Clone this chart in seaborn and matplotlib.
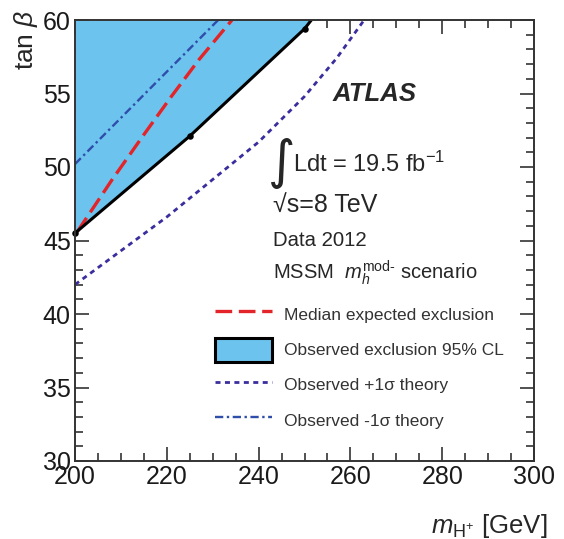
import matplotlib
matplotlib.use("Agg")
import matplotlib.pyplot as plt
import seaborn as sns
import pandas as pd
from matplotlib.lines import Line2D
from matplotlib.patches import Patch
from matplotlib.ticker import MultipleLocator

# ---- data ----
obs_mass = [200, 225, 250, 251.5]
obs_tanb = [45.5, 52.1, 59.4, 60.0]
marker_mass = [200, 225, 250]
marker_tanb = [45.5, 52.1, 59.4]

exp_mass = [200.5, 208, 215, 221, 227, 234.2]
exp_tanb = [45.6, 49.1, 52.2, 54.8, 57.3, 60.0]

plus_mass = [200, 220, 240, 250, 257, 263]
plus_tanb = [42.0, 46.6, 51.7, 54.8, 57.4, 60.0]

minus_mass = [200, 231.2]
minus_tanb = [50.2, 60.0]

x_ticks = [200, 220, 240, 260, 280, 300]
y_ticks = [30, 35, 40, 45, 50, 55, 60]

legend_labels = ["Median expected exclusion", "Observed exclusion 95% CL",
                 "Observed +1\u03c3 theory", "Observed -1\u03c3 theory"]

# ---- style ----
sns.set_style("ticks")
plt.rcParams['font.family'] = ['Liberation Sans', 'DejaVu Sans']
plt.rcParams['mathtext.fontset'] = 'custom'
plt.rcParams['mathtext.rm'] = 'Liberation Sans'
plt.rcParams['mathtext.it'] = 'Liberation Sans:italic'
plt.rcParams['mathtext.bf'] = 'Liberation Sans:bold'

fill_col = '#6CC4EE'
red = '#E32428'
blue_dot = '#3A2E9E'
blue_dd = '#2F4DAA'

fig = plt.figure(figsize=(5.64, 5.39), dpi=100)
ax = fig.add_axes([75/564, 1-461/539, (534-75)/564, (461-20)/539])

# observed exclusion fill
ax.fill_between(obs_mass, obs_tanb, [60]*len(obs_mass), color=fill_col, lw=0, zorder=1)

df_obs = pd.DataFrame({'m': obs_mass, 't': obs_tanb})
df_exp = pd.DataFrame({'m': exp_mass, 't': exp_tanb})
df_plus = pd.DataFrame({'m': plus_mass, 't': plus_tanb})
df_minus = pd.DataFrame({'m': minus_mass, 't': minus_tanb})
df_mark = pd.DataFrame({'m': marker_mass, 't': marker_tanb})

dd_pattern = [3.5, 1.5, 1, 1.5]
sns.lineplot(data=df_minus, x='m', y='t', ax=ax, sort=False, color=blue_dd, lw=1.7,
             zorder=3).lines[-1].set_dashes(dd_pattern)
sns.lineplot(data=df_exp, x='m', y='t', ax=ax, sort=False, color=red, lw=2.4,
             zorder=3).lines[-1].set_dashes([5, 2])
sns.lineplot(data=df_plus, x='m', y='t', ax=ax, sort=False, color=blue_dot, lw=2.0,
             zorder=3).lines[-1].set_dashes([1.8, 1.6])
sns.lineplot(data=df_obs, x='m', y='t', ax=ax, sort=False, color='black', lw=2.2, zorder=4)
sns.scatterplot(data=df_mark, x='m', y='t', ax=ax, color='black', s=22, zorder=5,
                edgecolor='black', linewidth=0, clip_on=False)

ax.set_xlim(200, 300)
ax.set_ylim(30, 60)
ax.set_xticks(x_ticks)
ax.set_yticks(y_ticks)
ax.xaxis.set_minor_locator(MultipleLocator(5))
ax.yaxis.set_minor_locator(MultipleLocator(1))
ax.tick_params(which='both', direction='in', top=True, right=True, color='#333333',
               width=1.2)
ax.tick_params(which='major', length=10, labelsize=18, labelcolor='#1a1a1a', pad=3)
ax.tick_params(which='minor', length=5.5)
for s in ax.spines.values():
    s.set_linewidth(1.4)
    s.set_color('#333333')
    s.set_zorder(6)

ax.set_xlabel(r'$m_{\rm H^{+}}$ [GeV]', fontsize=18.5, ha='right')
ax.xaxis.set_label_coords(1.03, -0.115)
ax.set_ylabel(r'tan $\beta$', fontsize=19)
ax.yaxis.label.set(ha='center', va='top', rotation_mode='default')
ax.yaxis.set_label_coords(-0.107, 1.024)

# annotations
ax.text(0.56, 0.833, 'ATLAS', transform=ax.transAxes, fontsize=18.5, fontweight='bold',
        fontstyle='italic', ha='left', va='center')
ax.text(0.42, 0.676, '\u222b', transform=ax.transAxes, fontsize=38, ha='left',
        va='center', family=['DejaVu Sans'])
ax.text(0.474, 0.656, r'Ldt = 19.5 fb$^{\mathregular{-1}}$', transform=ax.transAxes,
        fontsize=17, ha='left', va='baseline')
ax.text(0.431, 0.58, '\u221as=8 TeV', transform=ax.transAxes, fontsize=18,
        ha='left', va='center')
ax.text(0.431, 0.5, 'Data 2012', transform=ax.transAxes, fontsize=14.7,
        ha='left', va='center')
ax.text(0.431, 0.428, r'MSSM  $m_h^{\rm mod\text{-}}$ scenario', transform=ax.transAxes,
        fontsize=14.5, ha='left', va='center')

handles = [
    Line2D([], [], color=red, lw=2.4, dashes=[5, 2]),
    Patch(facecolor=fill_col, edgecolor='black', linewidth=2.2),
    Line2D([], [], color=blue_dot, lw=2.0, dashes=[1.8, 1.6]),
    Line2D([], [], color=blue_dd, lw=1.7, dashes=dd_pattern),
]
leg = ax.legend(handles, legend_labels, loc='upper left', bbox_to_anchor=(0.305, 0.36),
                frameon=False, fontsize=12.5, handlelength=3.3, handleheight=1.75,
                handletextpad=0.7, labelspacing=0.65, borderpad=0, borderaxespad=0)
for t in leg.get_texts():
    t.set_color('#333333')

fig.savefig('out.png', dpi=100)
